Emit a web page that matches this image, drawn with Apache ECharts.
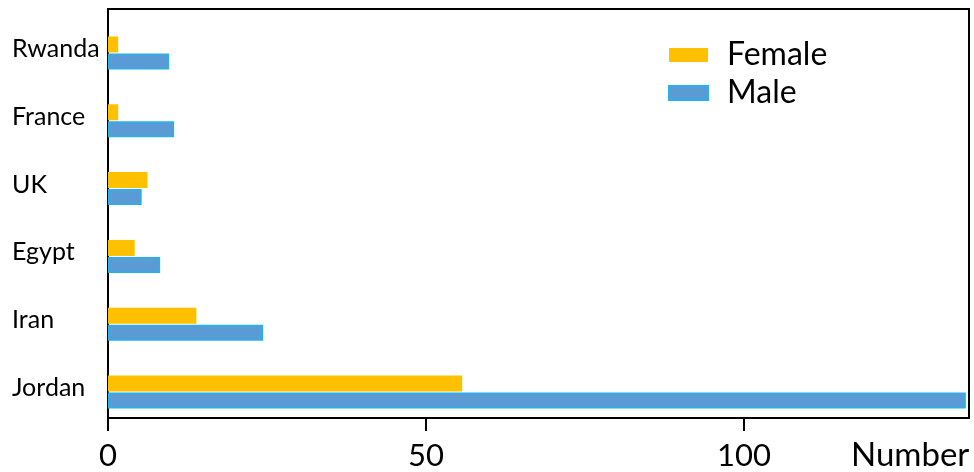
<!DOCTYPE html>
<html>
<head>
<meta charset="utf-8">
<script src="https://cdn.jsdelivr.net/npm/echarts@6/dist/echarts.min.js"></script>
<style>
html,body{margin:0;padding:0;background:#fff;}
#chart{width:974px;height:472px;}
</style>
</head>
<body>
<div id="chart"></div>
<script>
const categories = ['Jordan', 'Iran', 'Egypt', 'UK', 'France', 'Rwanda'];
const female = [55.7, 13.9, 4.2, 6.2, 1.6, 1.6];
const male = [134.9, 24.4, 8.2, 5.3, 10.4, 9.6];
const xTicks = [0, 50, 100];
const xMax = 135.4;
const seriesNames = ['Female', 'Male'];

const FONT = 'Lato';
const chart = echarts.init(document.getElementById('chart'), null, {renderer: 'canvas'});
chart.setOption({
  animation: false,
  backgroundColor: '#fff',
  textStyle: {fontFamily: FONT, color: '#000'},
  legend: {
    orient: 'vertical',
    left: 663,
    top: 34,
    itemWidth: 39,
    itemHeight: 14,
    itemGap: 6,
    icon: 'rect',
    data: seriesNames,
    textStyle: {fontFamily: FONT, fontSize: 32, color: '#000', padding: [0, 0, 0, 14]}
  },
  grid: [
    {left: 108, right: 5, top: 9, bottom: 52, show: true, borderColor: '#000', borderWidth: 2, backgroundColor: 'transparent'},
    {left: 108, right: 5, top: 19, bottom: 46}
  ],
  xAxis: [
    {
      type: 'value', gridIndex: 0, min: 0, max: xMax, interval: 50,
      axisLine: {show: true, lineStyle: {color: '#000', width: 2}},
      axisTick: {show: true, length: 13, customValues: xTicks, lineStyle: {color: '#000', width: 2}},
      axisLabel: {customValues: xTicks, margin: 22, fontSize: 31, fontFamily: FONT, color: '#000'},
      splitLine: {show: false},
      name: 'Number', nameLocation: 'end', nameGap: -118,
      nameTextStyle: {fontFamily: FONT, fontSize: 33, color: '#000', align: 'left', verticalAlign: 'top', padding: [21, 0, 0, 0]}
    },
    {
      type: 'value', gridIndex: 1, min: 0, max: xMax, show: false
    }
  ],
  yAxis: [
    {type: 'value', gridIndex: 0, show: false, min: 0, max: 1},
    {
      type: 'category', gridIndex: 1, data: categories,
      axisLine: {show: false}, axisTick: {show: false}, splitLine: {show: false},
      axisLabel: {align: 'left', verticalAlign: 'bottom', lineHeight: 8, margin: 96, fontSize: 25, fontFamily: FONT, color: '#000'}
    }
  ],
  series: [
    {
      name: 'Female', type: 'bar', xAxisIndex: 1, yAxisIndex: 1, data: female,
      barWidth: 16, barGap: '6%',
      itemStyle: {color: '#FFC000'}
    },
    {
      name: 'Male', type: 'bar', xAxisIndex: 1, yAxisIndex: 1, data: male,
      barWidth: 16, barGap: '6%',
      itemStyle: {color: '#5B9BD5', borderColor: '#27B2E8', borderWidth: 1.5}
    }
  ]
});
</script>
</body>
</html>
